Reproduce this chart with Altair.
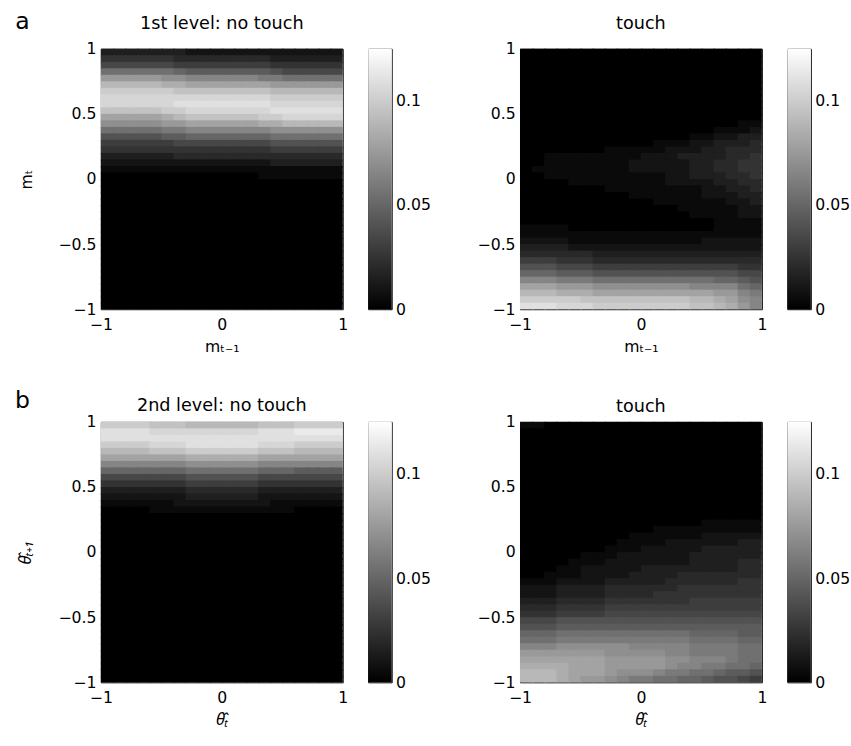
import altair as alt
import pandas as pd

# ---------------- data ----------------
# Each string is one row of the heat map (top row = y near 1), 20 columns from x=-1 to x=1.
# Characters are intensity levels; value = level index * LEVEL_STEP.
LEVELS = "0123456789ABCDEFGHIJKLMNOP"
LEVEL_STEP = 0.005
CMAX = 0.125
N_COLS, N_ROWS = 20, 40
Z = "0" * 20

A_NO_TOUCH = [
    "33333 33 222222 22 22222",
    "55555 54 444444 43 33333",
    "77777 76 666666 65 55555",
    "BBBBB BA 999999 98 77777",
    "FFFFF EE DDDDDD CC BBBBB",
    "IIIII HH GGGGGG GF FFFFF",
    "KKKKK KJ JJJJJJ JI IIIII",
    "LLLLL LL LLLLLL LK KKKKK",
    "LLLLL LM MMMMMM ML LLLLL",
    "JJJJJ KK LLLLLL LM MMMMM",
    "GGGGG HI JJJJJJ KK LLLLL",
    "EEEEE FF GGGGGG HH IIIII",
    "BBBBB CC DDDDDD DE EEEEE",
    "88888 99 AAAAAA AB BBBBB",
    "66666 67 777777 78 88888",
    "55555 55 555555 56 66666",
    "33333 34 444444 44 44444",
    "22222 22 222222 23 33333",
    "11111 11 111111 11 11111",
    "00000 00 000000 11 11111",
] + [Z] * 20

A_TOUCH = [Z] * 11 + [
    "00000000000000000011",
    "00000000000000001112",
    "00000000000000112233",
    "00000000000111223334",
    "0000000 11111 222 33 4 44",
    "00 11111111 222 333 3 4 4 5",
    "00 1111111 222 22 33 4 4 5 5",
    "0 11111111 22 222 33 4 4 5 5",
    "00 1111111 111 22 33 3 4 4 5",
    "0000 111111 11 22 22 3 3 4 4",
    "0000000 11111 111 22 3 3 4",
    "000000000 1111 11 22 2 3 3",
    "00000000000 1111 11 2 2 3",
    "0000000000000 111 11 2 2",
    "00000000000000 111 1 2 2",
    "0000000000000000 1111",
    "1111 000000000000 1111",
    "11111111111111111111",
    "2222 11111111111 22222",
    "3333 2222222222222222",
    "444444 33333333333333",
    "666 555 44444444444444",
    "888 777 666666666666 55",
    "AAA 999 88888888888 877",
    "DDD CCC BBBBBBBBBB A A 9 8",
    "GGG FFF EEEEEEEE DD DD B A",
    "III HHH GGGGGGGGGG F F D C",
    "KKK KKJ JJJJJJJJ II H G E D",
    "MMM LLL KKKKKKKK JJ I H F D",
]

B_NO_TOUCH = [
    "KKKK JJJ IIIIII JJJ KKKK",
    "MMMM LLL LLLLLL MMM NNNN",
    "MMMM MMM MMMMMM MMM MMMM",
    "KKKK LLL MMMMMM LLL KKKK",
    "IIII JJJ KKKKKK JJJ IIII",
    "GGGG GGG HHHHHH GGG GGGG",
    "DDDD DDD EEEEEE DDD DDDD",
    "AAAA AAA BBBBBB AAA 9999",
    "7777 777 888888 777 7777",
    "5555 555 666666 555 5555",
    "3333 333 444444 333 3333",
    "2222 222 333333 222 2222",
    "1111 112 222222 211 1111",
    "0000 111 111111 111 0000",
] + [Z] * 26

B_TOUCH = ["11" + "0" * 18] + [Z] * 14 + [
    "000000000000000 11111",
    "00000000000 1111 11111",
    "000000000 111111 22222",
    "00000000 1111 222 222 33",
    "0000000 111 222 22 33333",
    "00000 111 22 2222 333333",
    "0000 111 222 2222 3333 44",
    "000 11 222 22 3333 3333 44",
    "00 111 2222 3333 4444444",
    "111 2222 333 33 444 444 55",
    "222 3333 444 444 555 5555",
    "222 3333 4444 555 555555",
    "333 4444 5555 555 666666",
    "444 5555 6666666666666",
    "555 6666 7777777777777",
    "777 88888888888888888",
    "888 99999999999999999",
    "AAA BBBBBBBBBBB AAAA 99",
    "BBB CCCCCCCCCCC BBBB AA",
    "DDD EEEEEE DDDDD CCCC BB",
    "FFFFFFF EEEEE DD CCCC BB",
    "GGGGGGG FFFFF EE DDD C BB",
    "HHHH GGG FFFF F E DD CC BB A",
    "III H GGG F EEE D CC BB A 9 9 8",
    "III H G FF E D CC BB AA 9 88 7 6",
]

TITLES = ["1st level: no touch", "touch", "2nd level: no touch", "touch"]
LETTERS = ["a", "b"]
X_TITLES = ["m\u209c\u208b\u2081", "\u03b8\u0302\u209c"]
Y_TITLES = ["m\u209c", "\u03b8\u0302\u209c\u208a\u2081"]
X_TICKS = [-1, 0, 1]
Y_TICKS = [-1, -0.5, 0, 0.5, 1]
CBAR_RANGE = [0, CMAX]
CBAR_TICKS = [0, 0.05, 0.1]

# ---------------- styling ----------------
FONT = "DejaVu Sans"
SERIF = "Noto Sans"
W, H = 247, 266
CB_W = 24
OVERLAP = 0.012  # small overlap of neighbouring cells to hide anti-aliasing seams


def grid_frame(rows):
    recs = []
    assert len(rows) == N_ROWS, len(rows)
    for r, row in enumerate(rows):
        cells = row.replace(" ", "")
        assert len(cells) == N_COLS, (r, row, len(cells))
        for c, ch in enumerate(cells):
            xa = -1 + 2 * c / N_COLS
            yb = 1 - 2 * r / N_ROWS
            recs.append({"xa": xa, "xb": min(1, xa + 2 / N_COLS + OVERLAP),
                         "ya": max(-1, yb - 2 / N_ROWS - OVERLAP), "yb": yb,
                         "v": LEVELS.index(ch) * LEVEL_STEP})
    return pd.DataFrame(recs)


def panel(rows, title, title_dy, xtitle, ytitle, math, letter=None, letter_dy=0):
    df = grid_frame(rows)
    sc = alt.Scale(domain=[-1, 1], nice=False, zero=False)
    cscale = alt.Scale(domain=[0, CMAX], range=["#000000", "#ffffff"], interpolate="rgb")
    tfont = SERIF if math else FONT
    tstyle = "italic" if math else "normal"
    tsize = 17 if math else 16
    xaxis = alt.Axis(values=X_TICKS, format="~g", ticks=False, domain=False, grid=False,
                     labelFlush=False, labelFont=FONT, labelFontSize=16, labelColor="black",
                     labelPadding=8, title=xtitle, titleFont=tfont, titleFontStyle=tstyle,
                     titleFontSize=tsize, titleFontWeight="normal", titleColor="black",
                     titlePadding=6)
    yargs = dict(values=Y_TICKS, format="~g", ticks=False, domain=False, grid=False,
                 labelFlush=False, labelFont=FONT, labelFontSize=16, labelColor="black",
                 labelPadding=5)
    if ytitle:
        yaxis = alt.Axis(title=ytitle, titleFont=tfont, titleFontStyle=tstyle, titleFontSize=tsize,
                         titleFontWeight="normal", titleColor="black", titlePadding=24, **yargs)
    else:
        yaxis = alt.Axis(title=None, **yargs)
    heat = alt.Chart(df).mark_rect(strokeWidth=0).encode(
        x=alt.X("xa:Q", scale=sc, axis=xaxis),
        x2="xb:Q",
        y=alt.Y("ya:Q", scale=sc, axis=yaxis),
        y2="yb:Q",
        color=alt.Color("v:Q", scale=cscale, legend=None),
    )
    layers = [heat]
    ttl = alt.Chart(pd.DataFrame({"t": [title]})).mark_text(
        font=FONT, fontSize=18, align="center", baseline="alphabetic", color="black"
    ).encode(text="t:N", x=alt.value(W / 2), y=alt.value(title_dy))
    layers.append(ttl)
    if letter:
        let = alt.Chart(pd.DataFrame({"t": [letter]})).mark_text(
            font=FONT, fontSize=24, align="center", baseline="alphabetic", color="black"
        ).encode(text="t:N", x=alt.value(-80), y=alt.value(letter_dy))
        layers.append(let)
    return alt.layer(*layers).properties(width=W, height=H)


def colorbar():
    df = pd.DataFrame({"lo": [CBAR_RANGE[0]], "hi": [CBAR_RANGE[1]]})
    grad = alt.LinearGradient(
        gradient="linear",
        stops=[alt.GradientStop(color="#000000", offset=0),
               alt.GradientStop(color="#ffffff", offset=1)],
        x1=0, x2=0, y1=1, y2=0,
    )
    return alt.Chart(df).mark_rect(color=grad, strokeWidth=0).encode(
        x=alt.value(0), x2=alt.value(CB_W),
        y=alt.Y("lo:Q", scale=alt.Scale(domain=CBAR_RANGE, nice=False, zero=False),
                axis=alt.Axis(orient="right", values=CBAR_TICKS, format="~g", ticks=False,
                              domain=False, grid=False, labelFlush=False, labelFont=FONT,
                              labelFontSize=16, labelColor="black", labelPadding=4,
                              title=None)),
        y2="hi:Q",
    ).properties(width=CB_W, height=H)


pa1 = panel(A_NO_TOUCH, TITLES[0], -20, X_TITLES[0], Y_TITLES[0], False, LETTERS[0], -20)
pa2 = panel(A_TOUCH, TITLES[1], -20, X_TITLES[0], None, False)
pb1 = panel(B_NO_TOUCH, TITLES[2], -11, X_TITLES[1], Y_TITLES[1], True, LETTERS[1], -14)
pb2 = panel(B_TOUCH, TITLES[3], -10, X_TITLES[1], None, True)

res = dict(color="independent", y="independent")


def pair(p):
    return alt.hconcat(p, colorbar(), spacing=19).resolve_scale(**res)


row_a = alt.hconcat(pair(pa1), pair(pa2), spacing=45).resolve_scale(**res)
row_b = alt.hconcat(pair(pb1), pair(pb2), spacing=45).resolve_scale(**res)

chart = alt.vconcat(row_a, row_b, spacing=34).resolve_scale(**res).properties(
    padding={"left": 14, "top": 2, "right": 0, "bottom": 0},
    background="white",
).configure_view(stroke="black", strokeWidth=1)

chart.save("out.html", embed_options={"renderer": "svg", "actions": False})
